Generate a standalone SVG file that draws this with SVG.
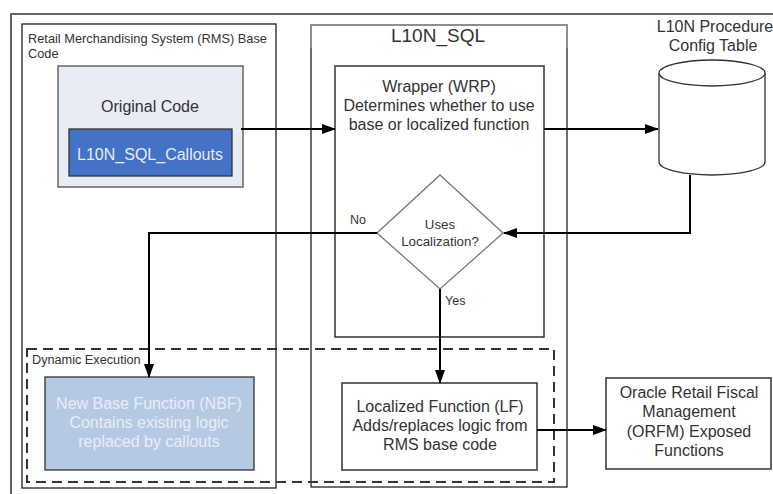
<svg xmlns="http://www.w3.org/2000/svg" width="773" height="494" viewBox="0 0 773 494">
<defs>
<marker id="arr" markerWidth="14" markerHeight="10" refX="13" refY="5" orient="auto" markerUnits="userSpaceOnUse">
<path d="M0,0 L14,5 L0,10 Z" fill="#000"/>
</marker>
<style>
text{font-family:"Liberation Sans",Arial,sans-serif;fill:#333;}
.c{text-anchor:middle;}
.box{fill:#fff;stroke:#333;stroke-width:1.5;}
.conn{fill:none;stroke:#000;stroke-width:2;}
</style>
</defs>
<rect width="773" height="494" fill="#fff"/>
<g id="frame"><path d="M11,494 V14 H780" fill="none" stroke="#333" stroke-width="1.5"/></g>
<g id="rms">
<rect x="22" y="24" width="254" height="464" fill="#fff" stroke="#222" stroke-width="1.3"/>
<text x="28" y="43" font-size="12.8">Retail Merchandising System (RMS) Base</text>
<text x="28" y="58" font-size="12.8">Code</text>
</g>
<g id="l10n_sql">
<rect x="311" y="25" width="256" height="462" fill="#fff" stroke="#222" stroke-width="1.3"/>
<path d="M311,25 H567 V48 M311,48 V25" fill="none" stroke="#999" stroke-width="1.5"/>
<text x="438" y="42" class="c" font-size="19">L10N_SQL</text>
</g>
<g id="original_code">
<rect x="58" y="66" width="185" height="121" fill="#e8ecf5" stroke="#666" stroke-width="1.5"/>
<text x="150" y="112" class="c" font-size="16">Original Code</text>
</g>
<g id="callouts">
<rect x="69" y="129" width="163" height="47" fill="#4472c4" stroke="#333" stroke-width="1.3"/>
<text x="150" y="160" class="c" font-size="16" style="fill:#e6ecf8">L10N_SQL_Callouts</text>
</g>
<g id="wrapper">
<rect x="335" y="66" width="209" height="271" class="box"/>
<text x="439" y="92" class="c" font-size="16">Wrapper (WRP)</text>
<text x="439" y="111" class="c" font-size="16">Determines whether to use</text>
<text x="439" y="130" class="c" font-size="16">base or localized function</text>
</g>
<g id="config_table">
<path d="M659,73 V162 A53,13 0 0 0 765,162 V73" fill="#fff" stroke="#333" stroke-width="1.3"/>
<ellipse cx="712" cy="73" rx="53" ry="13" fill="#fff" stroke="#333" stroke-width="1.3"/>
<text x="715" y="32" class="c" font-size="16">L10N Procedure</text>
<text x="713" y="51" class="c" font-size="16">Config Table</text>
</g>
<g id="decision">
<polygon points="440,175 503,233 440,289 377,233" fill="#fff" stroke="#777" stroke-width="1.3"/>
<text x="440" y="229" class="c" font-size="13.3">Uses</text>
<text x="440" y="246" class="c" font-size="13.3">Localization?</text>
</g>
<g id="dynamic_execution">
<rect x="27" y="349" width="527" height="133" fill="none" stroke="#333" stroke-width="2" stroke-dasharray="10,6"/>
<text x="32" y="364" font-size="12.7">Dynamic Execution</text>
</g>
<g id="nbf">
<rect x="45" y="377" width="209" height="93" fill="#b6c9e2" stroke="#333" stroke-width="1.3"/>
<text x="149" y="409" class="c" font-size="16" style="fill:#e8eef8">New Base Function (NBF)</text>
<text x="149" y="428" class="c" font-size="16" style="fill:#e8eef8">Contains existing logic</text>
<text x="149" y="447" class="c" font-size="16" style="fill:#e8eef8">replaced by callouts</text>
</g>
<g id="lf">
<rect x="342" y="383" width="195" height="87" class="box"/>
<text x="440" y="412" class="c" font-size="16">Localized Function (LF)</text>
<text x="440" y="431" class="c" font-size="16">Adds/replaces logic from</text>
<text x="440" y="450" class="c" font-size="16">RMS base code</text>
</g>
<g id="orfm">
<rect x="606" y="378" width="165" height="91" class="box"/>
<text x="689" y="398" class="c" font-size="16">Oracle Retail Fiscal</text>
<text x="689" y="417" class="c" font-size="16">Management</text>
<text x="689" y="437" class="c" font-size="16">(ORFM) Exposed</text>
<text x="689" y="456" class="c" font-size="16">Functions</text>
</g>
<g id="connectors">
<path class="conn" d="M241,129 H335" marker-end="url(#arr)"/>
<path class="conn" d="M544,129 H658" marker-end="url(#arr)"/>
<path class="conn" d="M690,175 V233 H504" marker-end="url(#arr)"/>
<path class="conn" d="M377,233 H149 V377" marker-end="url(#arr)"/>
<path class="conn" d="M440,289 V383" marker-end="url(#arr)"/>
<path class="conn" d="M537,430 H606" marker-end="url(#arr)"/>
<text x="350" y="224" font-size="12.5">No</text>
<text x="445" y="305" font-size="12.5">Yes</text>
</g>
</svg>
